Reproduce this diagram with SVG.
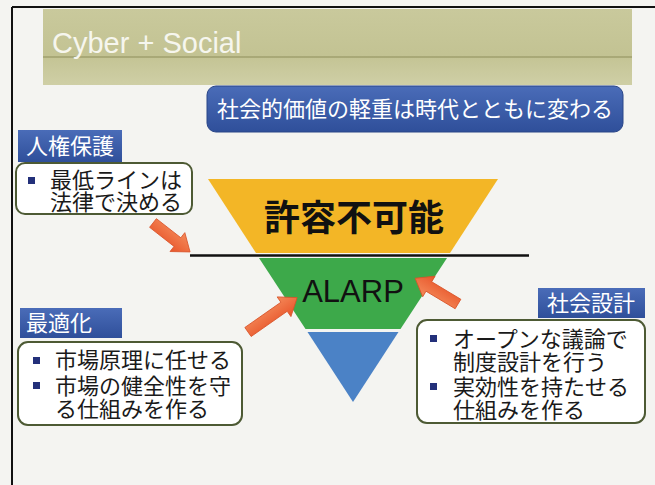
<svg xmlns="http://www.w3.org/2000/svg" width="655" height="485" viewBox="0 0 655 485">
  <defs>
    <linearGradient id="khaki" x1="0" y1="0" x2="0" y2="1">
      <stop offset="0" stop-color="#c9c99c"/>
      <stop offset="0.6" stop-color="#c3c393"/>
      <stop offset="1" stop-color="#cfcfa6"/>
    </linearGradient>
    <linearGradient id="blueLbl" x1="0" y1="0" x2="0" y2="1">
      <stop offset="0" stop-color="#4a6cb8"/>
      <stop offset="1" stop-color="#2f4f9a"/>
    </linearGradient>
    <linearGradient id="orange" x1="0" y1="0" x2="0" y2="1">
      <stop offset="0" stop-color="#f48a5a"/>
      <stop offset="1" stop-color="#e8552a"/>
    </linearGradient>
    <style>
      .jp { font-family: "Noto Sans CJK JP", "Noto Sans CJK SC", sans-serif; }
      .lbl { fill: url(#blueLbl); }
      .lbltxt { fill: #ffffff; font-size: 22px; }
      .box { fill: #ffffff; stroke: #4d5a34; stroke-width: 2; }
      .txt { fill: #1a1a1a; font-size: 22px; }
      .bullet { fill: #23307a; }
      .arrow { fill: url(#orange); stroke: #d9542a; stroke-width: 0.8; }
    </style>
  </defs>

  <rect x="0" y="0" width="655" height="485" fill="#f4f4f1"/>
  <line x1="12" y1="7" x2="655" y2="7" stroke="#111" stroke-width="2"/>
  <line x1="12" y1="7" x2="12" y2="485" stroke="#111" stroke-width="2"/>

  <g id="title">
    <rect x="43" y="9" width="589" height="76" fill="url(#khaki)"/>
    <line x1="43" y1="57" x2="632" y2="57" stroke="#8e8e5a" stroke-width="1.2"/>
    <text x="52" y="53" font-family="'Liberation Sans', Arial, sans-serif" font-size="29" fill="#f6f6ee">Cyber + Social</text>
  </g>

  <g id="banner">
    <rect x="207" y="86" width="416" height="46" rx="9" fill="url(#blueLbl)" stroke="#2a4688" stroke-width="1"/>
    <text x="415" y="117" text-anchor="middle" class="jp" font-size="22" fill="#ffffff">社会的価値の軽重は時代とともに変わる</text>
  </g>

  <g id="triangle">
    <polygon points="208,179 498,179 450,253 256,253" fill="#f3b626"/>
    <polygon points="259,258 447,258 400.5,329 305.5,329" fill="#3da94a"/>
    <polygon points="307.5,332 398.5,332 353,402" fill="#4b82c6"/>
    <line x1="190" y1="255.5" x2="529" y2="255.5" stroke="#111" stroke-width="2.5"/>
    <text x="354" y="231" text-anchor="middle" class="jp" font-size="36" font-weight="bold" fill="#111">許容不可能</text>
    <text x="353" y="302" text-anchor="middle" font-family="'Liberation Sans', Arial, sans-serif" font-size="31" fill="#111">ALARP</text>
  </g>

  <g id="human-rights">
    <rect x="18" y="130" width="104" height="32" class="lbl"/>
    <text x="70" y="154" text-anchor="middle" class="jp lbltxt">人権保護</text>
    <rect x="16" y="163" width="176" height="51" rx="9" class="box"/>
    <rect x="28" y="177" width="7" height="7" class="bullet"/>
    <text class="jp txt"><tspan x="50" y="188">最低ラインは</tspan><tspan x="50" y="210">法律で決める</tspan></text>
  </g>

  <g id="optimization">
    <rect x="20" y="308" width="102" height="30" class="lbl"/>
    <text x="26" y="331" class="jp lbltxt">最適化</text>
    <rect x="18" y="342" width="224" height="83" rx="10" class="box"/>
    <rect x="33" y="357" width="7" height="7" class="bullet"/>
    <rect x="33" y="382" width="7" height="7" class="bullet"/>
    <text class="jp txt"><tspan x="55" y="368">市場原理に任せる</tspan><tspan x="55" y="394">市場の健全性を守</tspan><tspan x="55" y="417">る仕組みを作る</tspan></text>
  </g>

  <g id="social-design">
    <rect x="538" y="288" width="107" height="30" class="lbl"/>
    <text x="591" y="311" text-anchor="middle" class="jp lbltxt">社会設計</text>
    <rect x="417" y="320" width="228" height="103" rx="10" class="box"/>
    <rect x="430" y="335" width="7" height="7" class="bullet"/>
    <rect x="430" y="383" width="7" height="7" class="bullet"/>
    <text class="jp txt"><tspan x="453" y="347">オープンな議論で</tspan><tspan x="453" y="370">制度設計を行う</tspan><tspan x="453" y="395">実効性を持たせる</tspan><tspan x="453" y="418">仕組みを作る</tspan></text>
  </g>

  <g id="connectors">
    <path class="arrow" transform="translate(153,223) rotate(38)" d="M0,-5.5 L31,-5.5 L31,-12 L47,0 L31,12 L31,5.5 L0,5.5 Z"/>
    <path class="arrow" transform="translate(248,332) rotate(-35)" d="M0,-5.5 L44,-5.5 L44,-12 L60,0 L44,12 L44,5.5 L0,5.5 Z"/>
    <path class="arrow" transform="translate(458,304) rotate(211)" d="M0,-5.5 L34,-5.5 L34,-12 L50,0 L34,12 L34,5.5 L0,5.5 Z"/>
  </g>
</svg>
